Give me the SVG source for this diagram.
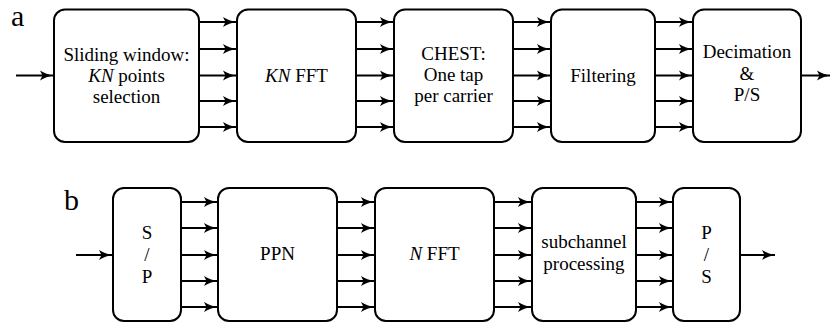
<svg xmlns="http://www.w3.org/2000/svg" width="831" height="323" viewBox="0 0 831 323">
<defs>
<marker id="ah" markerUnits="userSpaceOnUse" markerWidth="16" markerHeight="12" refX="13" refY="6" orient="auto">
<path d="M13,6 C9,6.7 4,8.4 0,11 L2.5,6 L0,1 C4,3.6 9,5.3 13,6Z" fill="#000"/>
</marker>
</defs>
<text x="11" y="26" font-family="Liberation Serif, Times New Roman, serif" font-size="30">a</text>
<text x="64" y="210" font-family="Liberation Serif, Times New Roman, serif" font-size="30">b</text>
<g id="connectors" stroke="#000" stroke-width="2" fill="none" marker-end="url(#ah)">
<path d="M16,75.5H53"/>
<path d="M199,22H236"/><path d="M199,49H236"/><path d="M199,75.5H236"/><path d="M199,101H236"/><path d="M199,127H236"/>
<path d="M356,22H393"/><path d="M356,49H393"/><path d="M356,75.5H393"/><path d="M356,101H393"/><path d="M356,127H393"/>
<path d="M513,22H550"/><path d="M513,49H550"/><path d="M513,75.5H550"/><path d="M513,101H550"/><path d="M513,127H550"/>
<path d="M655,22H692"/><path d="M655,49H692"/><path d="M655,75.5H692"/><path d="M655,101H692"/><path d="M655,127H692"/>
<path d="M801,75.5H830"/>
<path d="M76,255H112"/>
<path d="M181,202H217"/><path d="M181,228H217"/><path d="M181,255H217"/><path d="M181,281H217"/><path d="M181,307H217"/>
<path d="M337,202H374"/><path d="M337,228H374"/><path d="M337,255H374"/><path d="M337,281H374"/><path d="M337,307H374"/>
<path d="M494,202H531"/><path d="M494,228H531"/><path d="M494,255H531"/><path d="M494,281H531"/><path d="M494,307H531"/>
<path d="M636,202H672"/><path d="M636,228H672"/><path d="M636,255H672"/><path d="M636,281H672"/><path d="M636,307H672"/>
<path d="M740,255H775"/>
</g>
<g id="sliding">
<rect x="54" y="9.5" width="145" height="132.5" rx="11" fill="#fff" stroke="#000" stroke-width="2"/>
<text x="126.5" y="61" font-family="Liberation Serif, Times New Roman, serif" font-size="19" text-anchor="middle">Sliding window:</text>
<text x="126.5" y="82" font-family="Liberation Serif, Times New Roman, serif" font-size="19" text-anchor="middle"><tspan font-style="italic">KN</tspan> points</text>
<text x="126.5" y="103" font-family="Liberation Serif, Times New Roman, serif" font-size="19" text-anchor="middle">selection</text>
</g>
<g id="knfft">
<rect x="237" y="9.5" width="119" height="132.5" rx="11" fill="#fff" stroke="#000" stroke-width="2"/>
<text x="296.5" y="82" font-family="Liberation Serif, Times New Roman, serif" font-size="19" text-anchor="middle"><tspan font-style="italic">KN</tspan> FFT</text>
</g>
<g id="chest">
<rect x="394" y="9.5" width="119" height="132.5" rx="11" fill="#fff" stroke="#000" stroke-width="2"/>
<text x="453.5" y="60" font-family="Liberation Serif, Times New Roman, serif" font-size="19" text-anchor="middle">CHEST:</text>
<text x="453.5" y="81" font-family="Liberation Serif, Times New Roman, serif" font-size="19" text-anchor="middle">One tap</text>
<text x="453.5" y="102" font-family="Liberation Serif, Times New Roman, serif" font-size="19" text-anchor="middle">per carrier</text>
</g>
<g id="filtering">
<rect x="551" y="9.5" width="104" height="132.5" rx="11" fill="#fff" stroke="#000" stroke-width="2"/>
<text x="603" y="82" font-family="Liberation Serif, Times New Roman, serif" font-size="19" text-anchor="middle">Filtering</text>
</g>
<g id="decimation">
<rect x="693" y="9.5" width="108" height="132.5" rx="11" fill="#fff" stroke="#000" stroke-width="2"/>
<text x="747" y="58" font-family="Liberation Serif, Times New Roman, serif" font-size="19" text-anchor="middle">Decimation</text>
<text x="747" y="80" font-family="Liberation Serif, Times New Roman, serif" font-size="19" text-anchor="middle">&amp;</text>
<text x="747" y="101" font-family="Liberation Serif, Times New Roman, serif" font-size="19" text-anchor="middle">P/S</text>
</g>
<g id="sp">
<rect x="113" y="188" width="68" height="133" rx="11" fill="#fff" stroke="#000" stroke-width="2"/>
<text x="147" y="239" font-family="Liberation Serif, Times New Roman, serif" font-size="19" text-anchor="middle">S</text>
<text x="147" y="261" font-family="Liberation Serif, Times New Roman, serif" font-size="19" text-anchor="middle">/</text>
<text x="147" y="283" font-family="Liberation Serif, Times New Roman, serif" font-size="19" text-anchor="middle">P</text>
</g>
<g id="ppn">
<rect x="218" y="188" width="119" height="133" rx="11" fill="#fff" stroke="#000" stroke-width="2"/>
<text x="277.5" y="260" font-family="Liberation Serif, Times New Roman, serif" font-size="19" text-anchor="middle">PPN</text>
</g>
<g id="nfft">
<rect x="375" y="188" width="119" height="133" rx="11" fill="#fff" stroke="#000" stroke-width="2"/>
<text x="434.5" y="260" font-family="Liberation Serif, Times New Roman, serif" font-size="19" text-anchor="middle"><tspan font-style="italic">N</tspan> FFT</text>
</g>
<g id="subchannel">
<rect x="532" y="188" width="104" height="133" rx="11" fill="#fff" stroke="#000" stroke-width="2"/>
<text x="584" y="248" font-family="Liberation Serif, Times New Roman, serif" font-size="19" text-anchor="middle">subchannel</text>
<text x="584" y="270" font-family="Liberation Serif, Times New Roman, serif" font-size="19" text-anchor="middle">processing</text>
</g>
<g id="ps">
<rect x="673" y="188" width="67" height="133" rx="11" fill="#fff" stroke="#000" stroke-width="2"/>
<text x="706.5" y="239" font-family="Liberation Serif, Times New Roman, serif" font-size="19" text-anchor="middle">P</text>
<text x="706.5" y="261" font-family="Liberation Serif, Times New Roman, serif" font-size="19" text-anchor="middle">/</text>
<text x="706.5" y="283" font-family="Liberation Serif, Times New Roman, serif" font-size="19" text-anchor="middle">S</text>
</g>
</svg>
